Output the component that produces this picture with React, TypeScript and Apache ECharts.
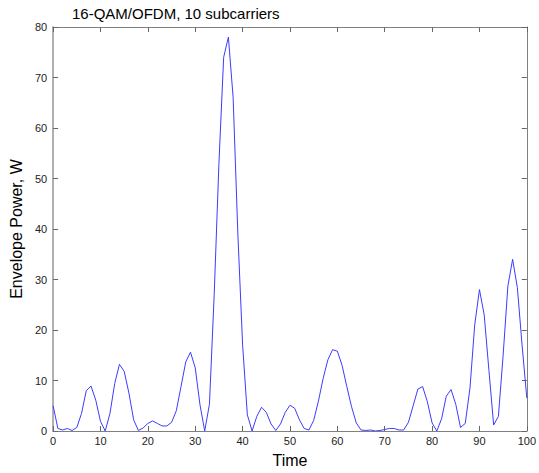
import React, { useEffect, useRef } from "react";
import * as echarts from "echarts";

const titleText = "16-QAM/OFDM, 10 subcarriers";
const xName = "Time";
const yName = "Envelope Power, W";
const xTicks = [0, 10, 20, 30, 40, 50, 60, 70, 80, 90, 100];
const yTicks = [0, 10, 20, 30, 40, 50, 60, 70, 80];
const power = [
  5, 0.5, 0.2, 0.5, 0.1, 0.7, 3.5, 8.0, 8.9, 6.1,
  1.9, 0, 3.5, 9.4, 13.2, 11.8, 7.5, 2.2, 0.1, 0.6,
  1.5, 2.0, 1.5, 1.0, 1.0, 1.7, 4.0, 8.8, 13.7, 15.6,
  12.5, 5.2, 0, 5.3, 27, 53, 74, 78, 66, 39,
  17, 3.2, 0, 2.9, 4.7, 3.7, 1.4, 0.1, 1.4, 3.7,
  5.1, 4.5, 2.2, 0.5, 0.2, 2.1, 5.9, 10.4, 14.1, 16.1,
  15.8, 13.0, 8.8, 4.8, 1.6, 0.2, 0.1, 0.2, 0, 0.1,
  0.3, 0.5, 0.5, 0.2, 0.2, 1.7, 5.0, 8.3, 8.8, 5.8,
  1.6, 0, 2.4, 6.9, 8.2, 5.3, 0.7, 1.5, 8.5, 21,
  28, 23, 12, 1.2, 2.9, 15, 28.7, 34, 28.4, 17,
  6.5,
];

export default function App() {
  const ref = useRef<HTMLDivElement>(null);
  useEffect(() => {
    if (!ref.current) return;
    const chart = echarts.init(ref.current, null, { renderer: "svg" });
    const font = "'Liberation Sans', Arial, sans-serif";
    const xMin = xTicks[0];
    const xMax = xTicks[xTicks.length - 1];
    const xInt = xTicks[1] - xTicks[0];
    const yMin = yTicks[0];
    const yMax = yTicks[yTicks.length - 1];
    const yInt = yTicks[1] - yTicks[0];
    const axisBase = {
      type: "value" as const,
      splitLine: { show: false },
      axisTick: { show: true, inside: true, length: 5, lineStyle: { color: "#666" } },
    };
    chart.setOption({
      animation: false,
      backgroundColor: "#ffffff",
      title: {
        text: titleText,
        left: 67,
        top: 1,
        textStyle: { fontFamily: font, fontSize: 15, fontWeight: "normal", color: "#000" },
      },
      grid: { left: 50, right: 9, top: 27, bottom: 37, containLabel: false },
      xAxis: [
        {
          ...axisBase,
          min: xMin,
          max: xMax,
          interval: xInt,
          position: "bottom",
          name: xName,
          nameLocation: "middle",
          nameGap: 21,
          nameTextStyle: { fontFamily: font, fontSize: 16, color: "#000" },
          axisLine: { show: true, lineStyle: { color: "#808080", width: 1 } },
          axisLabel: { fontFamily: font, fontSize: 11, color: "#222", margin: 4 },
        },
        {
          ...axisBase,
          min: xMin,
          max: xMax,
          interval: xInt,
          position: "top",
          axisLine: { show: true, onZero: false, lineStyle: { color: "#808080", width: 1 } },
          axisLabel: { show: false },
        },
      ],
      yAxis: [
        {
          ...axisBase,
          min: yMin,
          max: yMax,
          interval: yInt,
          position: "left",
          name: yName,
          nameLocation: "middle",
          nameGap: 26,
          nameTextStyle: { fontFamily: font, fontSize: 16, color: "#000" },
          axisLine: { show: true, lineStyle: { color: "#b0b0b0", width: 2 } },
          axisLabel: { fontFamily: font, fontSize: 11, color: "#222", margin: 6 },
        },
        {
          ...axisBase,
          min: yMin,
          max: yMax,
          interval: yInt,
          position: "right",
          axisLine: { show: true, onZero: false, lineStyle: { color: "#808080", width: 1 } },
          axisLabel: { show: false },
        },
      ],
      series: [
        {
          type: "line",
          xAxisIndex: 0,
          yAxisIndex: 0,
          data: power.map((v, i) => [i, v]),
          showSymbol: false,
          symbol: "none",
          lineStyle: { color: "#3c3cff", width: 1 },
        },
      ],
    });
    return () => chart.dispose();
  }, []);
  return (
    <div
      ref={ref}
      style={{ position: "fixed", left: 0, top: 0, width: 539, height: 473 }}
    />
  );
}
